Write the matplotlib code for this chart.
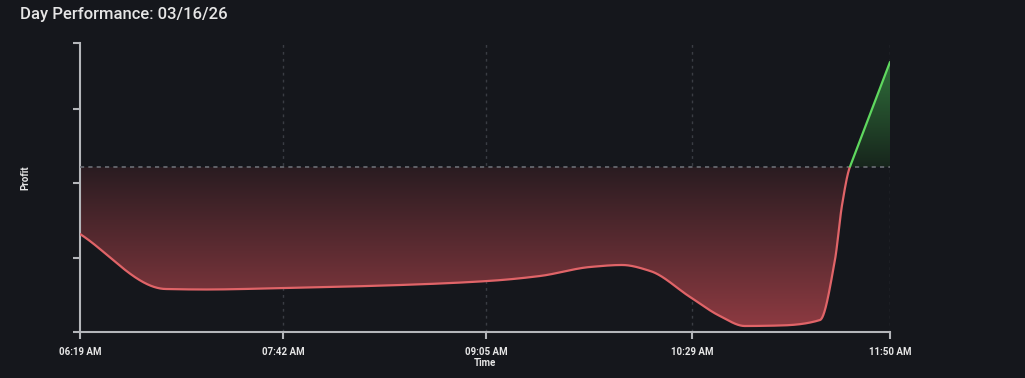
import numpy as np
import matplotlib
matplotlib.use("Agg")
import matplotlib.pyplot as plt
from matplotlib.colors import LinearSegmentedColormap

# ---- data ----
times_min = [379, 414, 430, 462.8, 510, 545.7, 567, 587.4, 600.5, 612,
             628.3, 640.5, 650.7, 665, 681.4, 687.5, 690.4, 693.6, 710]
profit = [-134, -244, -245, -242, -236, -228, -218, -200, -196, -208,
          -260, -298, -318, -317, -306, -186, -76, 0, 210]
tick_minutes = [379, 462, 545, 629, 710]
tick_labels = ["06:19 AM", "07:42 AM", "09:05 AM", "10:29 AM", "11:50 AM"]
y_ticks = [-330, -182, -32, 116, 248]
title = "Day Performance: 03/16/26"

BG = "#15171c"


def monotone_cubic(x, y, xs):
    x = np.asarray(x, float); y = np.asarray(y, float)
    h = np.diff(x); d = np.diff(y) / h
    n = len(x)
    m = np.zeros(n)
    m[0] = d[0]; m[-1] = d[-1]
    for i in range(1, n - 1):
        if d[i - 1] * d[i] <= 0:
            m[i] = 0
        else:
            w1 = 2 * h[i] + h[i - 1]; w2 = h[i] + 2 * h[i - 1]
            m[i] = (w1 + w2) / (w1 / d[i - 1] + w2 / d[i])
    # last segment drawn straight
    m[-2] = d[-1]
    idx = np.clip(np.searchsorted(x, xs) - 1, 0, n - 2)
    t = (xs - x[idx]) / h[idx]
    h00 = 2 * t**3 - 3 * t**2 + 1
    h10 = t**3 - 2 * t**2 + t
    h01 = -2 * t**3 + 3 * t**2
    h11 = t**3 - t**2
    return (h00 * y[idx] + h10 * h[idx] * m[idx] + h01 * y[idx + 1]
            + h11 * h[idx] * m[idx + 1])


xs = np.linspace(times_min[0], times_min[-1], 3000)
ys = monotone_cubic(times_min, profit, xs)

fig = plt.figure(figsize=(10.25, 3.78), dpi=100, facecolor=BG)
ax = fig.add_axes([80 / 1025, 46 / 378, 810 / 1025, 289 / 378])
ax.set_facecolor(BG)
ymin, ymax = -330, 248
ax.set_xlim(times_min[0], times_min[-1])
ax.set_ylim(ymin, ymax)

# grid
for t in tick_minutes[1:]:
    ax.axvline(t, color="#3a3d44", lw=1, ls=(0, (2, 3)), zorder=1)

# gradient fills
red_cmap = LinearSegmentedColormap.from_list("r", ["#2a1c21", "#8c3a41"])
grn_cmap = LinearSegmentedColormap.from_list("g", ["#17251c", "#2f6e3a"])
extent = [times_min[0], times_min[-1], ymin, ymax]
yy = np.linspace(ymin, ymax, 400)[:, None]
red_vals = np.clip(-yy / 318.0, 0, 1) * np.ones((1, 2))
grn_vals = np.clip(yy / 210.0, 0, 1) * np.ones((1, 2))

neg = np.minimum(ys, 0)
pos = np.maximum(ys, 0)
poly_r = ax.fill_between(xs, neg, 0, color="none", lw=0)
poly_g = ax.fill_between(xs, 0, pos, color="none", lw=0)
im_r = ax.imshow(red_vals, cmap=red_cmap, vmin=0, vmax=1, extent=extent,
                 origin="lower", aspect="auto", zorder=2)
im_r.set_clip_path(poly_r.get_paths()[0], transform=ax.transData)
im_g = ax.imshow(grn_vals, cmap=grn_cmap, vmin=0, vmax=1, extent=extent,
                 origin="lower", aspect="auto", zorder=2)
im_g.set_clip_path(poly_g.get_paths()[0], transform=ax.transData)

# zero line
ax.axhline(0, color="#6b6e75", lw=1.2, ls=(0, (2.5, 2.5)), zorder=3)

# line split red/green
r = np.ma.masked_where(ys > 0.5, ys)
g = np.ma.masked_where(ys < -0.5, ys)
ax.plot(xs, r, color="#e06468", lw=1.6, zorder=4, solid_capstyle="round")
ax.plot(xs, g, color="#5fd85f", lw=1.6, zorder=4, solid_capstyle="round")

# axes styling
for s in ["top", "right"]:
    ax.spines[s].set_visible(False)
for s in ["left", "bottom"]:
    ax.spines[s].set_color("#b4b6ba")
    ax.spines[s].set_linewidth(1.5)
ax.set_xticks(tick_minutes)
ax.set_xticklabels(tick_labels)
ax.set_yticks(y_ticks)
ax.set_yticklabels([])
ax.tick_params(axis="both", colors="#b4b6ba", length=5, width=1.5,
               labelcolor="#e6e6e6", labelsize=7, pad=6)
for lab in ax.get_xticklabels():
    lab.set_fontfamily("Roboto")
    lab.set_fontweight("bold")

fig.text(485 / 1025, 1 - 363 / 378, "Time", color="#e6e6e6", fontsize=7,
         fontfamily="Roboto", fontweight="bold", ha="center", va="center")
fig.text(25 / 1025, 1 - 178 / 378, "Profit", rotation=90, color="#e6e6e6",
         fontsize=7, fontfamily="Roboto", fontweight="bold",
         ha="center", va="center")
fig.text(20 / 1025, 1 - 15 / 378, title, color="#e6e6e6", fontsize=12,
         fontfamily="Roboto", fontweight="medium", ha="left", va="center")

fig.savefig("out.png", dpi=100, facecolor=BG)
